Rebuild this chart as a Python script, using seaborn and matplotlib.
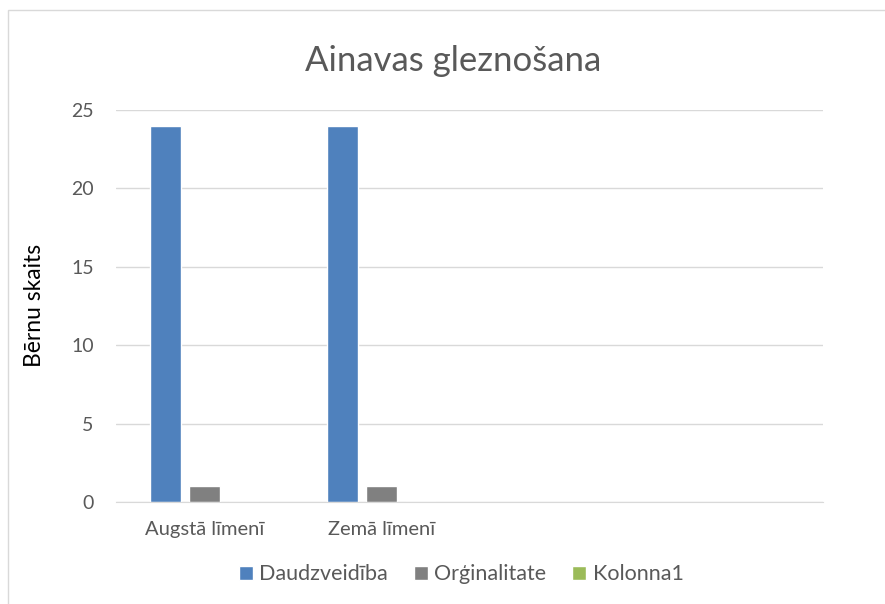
import pandas as pd
import matplotlib.pyplot as plt
import seaborn as sns
from matplotlib.patches import Rectangle

# Data
categories = ['Augstā līmenī', 'Zemā līmenī', ' ', '  ']
daudzveidiba = [24, 24, None, None]
orginalitate = [1, 1, None, None]
kolonna1 = [0, 0, None, None]
series_names = ['Daudzveidība', 'Orģinalitate', 'Kolonna1']
colors = ['#4F81BD', '#808080', '#9BBB59']

rows = []
for name, vals in zip(series_names, [daudzveidiba, orginalitate, kolonna1]):
    for cat, v in zip(categories, vals):
        rows.append({'Kategorija': cat, 'Sērija': name, 'Vērtība': v})
data = pd.DataFrame(rows)

sns.set_style('white')
plt.rcParams['font.family'] = ['Lato', 'DejaVu Sans']

fig = plt.figure(figsize=(8.85, 6.04), dpi=100)
ax = fig.add_axes([0.131, 0.169, 0.799, 0.649])

sns.barplot(data=data, x='Kategorija', y='Vērtība', hue='Sērija',
            order=categories, hue_order=series_names, palette=colors,
            width=0.662, gap=0.205, saturation=1, ax=ax, legend=True)

ax.set_ylim(0, 25)
ax.set_yticks([0, 5, 10, 15, 20, 25])
ax.yaxis.grid(True, color='#D9D9D9', linewidth=1)
ax.set_axisbelow(True)
for s in ['top', 'right', 'left']:
    ax.spines[s].set_visible(False)
ax.spines['bottom'].set_color('#D9D9D9')
ax.tick_params(axis='y', length=0, pad=16, labelsize=14, labelcolor='#595959')
ax.tick_params(axis='x', length=0, pad=14, labelsize=14.5, labelcolor='#595959')
ax.set_xlabel('')
ax.set_ylabel('Bērnu skaits', fontsize=16.5, color='black', labelpad=19)

fig.suptitle('Ainavas gleznošana', fontsize=25, color='#595959', x=0.512, y=0.925)

ax.legend(loc='center', bbox_to_anchor=(0.488, -0.185), ncol=3, frameon=False,
          fontsize=15.5, handlelength=0.65, handleheight=0.65, handletextpad=0.3,
          columnspacing=1.2, labelcolor='#595959')

fig.patches.append(Rectangle((0.009, -0.01), 1.0, 0.994, transform=fig.transFigure,
                             fill=False, edgecolor='#D9D9D9', linewidth=1))

plt.savefig('out.png', dpi=100)
